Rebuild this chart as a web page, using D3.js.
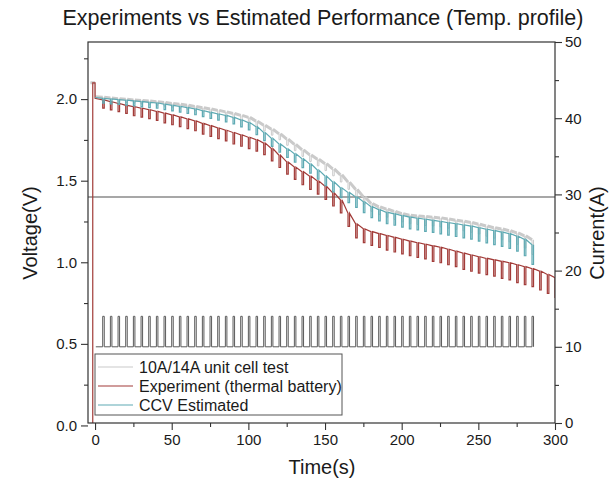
<!DOCTYPE html>
<html>
<head>
<meta charset="utf-8">
<script src="https://cdn.jsdelivr.net/npm/d3@7"></script>
<style>
  body { margin: 0; background: #fff; }
  svg { font-family: "Liberation Sans", Arial, sans-serif; }
  .tick text { font-size: 15px; fill: #1a1a1a; }
  .tick line { stroke: #333; stroke-width: 1.1; }
</style>
</head>
<body>
<div id="chart"></div>
<script>
// times (s) at which each voltage "top" is read; pulses happen at every time after the first
const topTimes = [0,5,10,15,20,25,30,35,40,45,50,55,60,65,70,75,80,85,90,95,100,
  105,110,115,120,125,130,135,140,145,150,155,160,165,170,175,180,185,190,195,200,
  205,210,215,220,225,230,235,240,245,250,255,260,265,270,275,280,285,290,295,300];
const pulseWidth = 1; // s

// Experiment (thermal battery): voltage just before each pulse, and the drop during it
const expTop = [2.005,1.995,1.984,1.973,1.962,1.953,1.944,1.935,1.925,1.914,1.903,
  1.891,1.879,1.866,1.851,1.837,1.823,1.809,1.795,1.781,1.766,
  1.751,1.730,1.697,1.656,1.615,1.583,1.555,1.527,1.498,1.466,
  1.425,1.383,1.300,1.235,1.205,1.188,1.176,1.164,1.153,1.141,
  1.130,1.120,1.111,1.101,1.092,1.080,1.068,1.056,1.045,1.034,
  1.024,1.015,1.006,0.997,0.985,0.973,0.961,0.945,0.925,0.905];
const expDrop = [0.05,0.05,0.05,0.05,0.055,0.055,0.055,0.055,0.06,0.06,
  0.06,0.06,0.06,0.065,0.065,0.065,0.065,0.07,0.07,0.07,
  0.07,0.07,0.075,0.075,0.075,0.075,0.08,0.08,0.08,0.08,
  0.08,0.08,0.08,0.085,0.085,0.085,0.085,0.09,0.09,0.09,
  0.09,0.09,0.09,0.095,0.095,0.095,0.095,0.1,0.1,0.1,
  0.1,0.1,0.105,0.105,0.11,0.11,0.11,0.115,0.115,0.12];
const expStartT = [-1.5, -1.5, 0];
const expStartV = [0.0, 2.1, 2.1];

// CCV Estimated
const ccvTop = [2.010,2.005,2.001,1.997,1.993,1.989,1.985,1.980,1.976,1.969,1.962,
  1.955,1.948,1.940,1.929,1.919,1.909,1.900,1.888,1.872,1.856,
  1.830,1.795,1.760,1.725,1.695,1.665,1.634,1.602,1.565,1.528,
  1.492,1.456,1.428,1.400,1.370,1.340,1.322,1.306,1.297,1.286,
  1.277,1.270,1.264,1.257,1.250,1.243,1.236,1.229,1.222,1.212,
  1.203,1.194,1.185,1.175,1.160,1.140,1.107];
const ccvDrop = [0.03,0.03,0.03,0.03,0.03,0.032,0.032,0.032,0.034,0.034,
  0.035,0.035,0.036,0.036,0.037,0.038,0.04,0.04,0.042,0.045,
  0.048,0.05,0.05,0.05,0.052,0.052,0.054,0.055,0.056,0.058,
  0.06,0.06,0.062,0.064,0.066,0.066,0.068,0.07,0.07,0.07,
  0.072,0.072,0.074,0.074,0.076,0.076,0.078,0.08,0.08,0.082,
  0.084,0.086,0.088,0.09,0.092,0.1,0.12];

// 10A/14A unit cell test
const unitTop = [2.015,2.011,2.007,2.003,1.999,1.995,1.992,1.988,1.984,1.979,1.973,
  1.968,1.962,1.955,1.947,1.939,1.931,1.922,1.912,1.900,1.888,
  1.865,1.840,1.815,1.787,1.755,1.722,1.689,1.658,1.631,1.604,
  1.572,1.536,1.491,1.446,1.401,1.360,1.340,1.326,1.312,1.298,
  1.288,1.284,1.280,1.276,1.272,1.265,1.258,1.251,1.244,1.233,
  1.222,1.212,1.204,1.193,1.180,1.162,1.138];
const unitDrop = [0.02,0.02,0.02,0.02,0.02,0.022,0.022,0.022,0.022,0.022,
  0.024,0.024,0.025,0.025,0.026,0.027,0.028,0.03,0.03,0.032,
  0.034,0.035,0.036,0.036,0.038,0.038,0.04,0.04,0.04,0.042,
  0.042,0.044,0.044,0.046,0.046,0.048,0.048,0.05,0.05,0.05,
  0.052,0.052,0.054,0.054,0.055,0.056,0.057,0.058,0.06,0.06,
  0.062,0.064,0.066,0.068,0.07,0.075,0.09];
const unitStartT = [-3, 0];
const unitStartV = [2.1, 2.1];

// current profile (right axis)
const currentPulseTimes = [5,10,15,20,25,30,35,40,45,50,55,60,65,70,75,80,85,90,95,100,
  105,110,115,120,125,130,135,140,145,150,155,160,165,170,175,180,185,190,195,200,
  205,210,215,220,225,230,235,240,245,250,255,260,265,270,275,280,285];
const currentStart = 0.5, currentEnd = 286;
const currentBase = 10, currentPeak = 14;

const cutoffVoltage = 1.4;

const xTicks = [0,50,100,150,200,250,300];
const xMinor = [25,75,125,175,225,275];
const vTicks = [0,0.5,1.0,1.5,2.0];
const vMinor = [0.25,0.75,1.25,1.75,2.25];
const iTicks = [0,10,20,30,40,50];
const iMinor = [5,15,25,35,45];

const legendItems = [
  { label: "10A/14A unit cell test", color: "#cacaca" },
  { label: "Experiment (thermal battery)", color: "#a23b38" },
  { label: "CCV Estimated", color: "#5eaab3" }
];

// ---- layout
const W = 614, H = 484;
const margin = { top: 42, right: 59, bottom: 61, left: 88 };

const svg = d3.select("#chart").append("svg").attr("width", W).attr("height", H);

const x = d3.scaleLinear().domain([-4.6, 300]).range([margin.left, W - margin.right]);
const yV = d3.scaleLinear().domain([0.015, 2.35]).range([H - margin.bottom, margin.top]);
const yI = d3.scaleLinear().domain([0, 50]).range([H - margin.bottom, margin.top]);

svg.append("defs").append("clipPath").attr("id", "plot")
  .append("rect")
  .attr("x", margin.left).attr("y", margin.top)
  .attr("width", W - margin.left - margin.right)
  .attr("height", H - margin.top - margin.bottom);

// build the saw-tooth voltage traces from the per-pulse readings
function sawPoints(tops, drops, startT, startV) {
  const pts = startT.map((t, i) => [t, startV[i]]);
  pts.push([topTimes[0], tops[0]]);
  for (let j = 1; j < tops.length; j++) {
    const tp = topTimes[j], v = tops[j], b = v - drops[j - 1];
    pts.push([tp, v], [tp, b], [tp + pulseWidth, b], [tp + pulseWidth, v]);
  }
  return pts;
}

// plateaus only (between pulses), used for the thick unit-cell trace
function plateaus(tops) {
  const segs = [];
  for (let j = 0; j < tops.length - 1; j++) {
    const t0 = j === 0 ? topTimes[0] : topTimes[j] + pulseWidth;
    segs.push([[t0, tops[j]], [topTimes[j + 1], tops[j + 1]]]);
  }
  return segs;
}

const lineV = d3.line().x(d => x(d[0])).y(d => yV(d[1]));
const lineI = d3.line().x(d => x(d[0])).y(d => yI(d[1]));

const plot = svg.append("g").attr("clip-path", "url(#plot)");

// cutoff reference line
plot.append("line")
  .attr("x1", margin.left).attr("x2", W - margin.right)
  .attr("y1", yV(cutoffVoltage)).attr("y2", yV(cutoffVoltage))
  .attr("stroke", "#8a8a8a").attr("stroke-width", 1.3);

// current pulses
const currentPts = [[currentStart, currentBase]];
currentPulseTimes.forEach(tp => {
  currentPts.push([tp, currentBase], [tp, currentPeak], [tp + pulseWidth, currentPeak], [tp + pulseWidth, currentBase]);
});
currentPts.push([currentEnd, currentBase]);
plot.append("path").datum(currentPts)
  .attr("fill", "none").attr("stroke", "#5a5a5a").attr("stroke-width", 1)
  .attr("d", lineI);

// unit cell test: thin teeth + thick plateaus
plot.append("path").datum(sawPoints(unitTop, unitDrop, unitStartT, unitStartV))
  .attr("fill", "none").attr("stroke", legendItems[0].color).attr("stroke-width", 1)
  .attr("d", lineV);
plot.append("path")
  .attr("fill", "none").attr("stroke", legendItems[0].color).attr("stroke-width", 3)
  .attr("d", plateaus(unitTop).map(s => lineV(s)).join("") + lineV(unitStartT.map((t, i) => [t, unitStartV[i]])));

plot.append("path").datum(sawPoints(expTop, expDrop, expStartT, expStartV))
  .attr("fill", "none").attr("stroke", legendItems[1].color).attr("stroke-width", 1.2)
  .attr("d", lineV);

plot.append("path").datum(sawPoints(ccvTop, ccvDrop, [], []))
  .attr("fill", "none").attr("stroke", legendItems[2].color).attr("stroke-width", 1.2)
  .attr("d", lineV);

// ---- axes
const bottom = H - margin.bottom, right = W - margin.right;

svg.append("g").attr("transform", `translate(0,${bottom})`)
  .call(d3.axisBottom(x).tickValues(xTicks).tickSize(7).tickPadding(4))
  .call(g => g.select(".domain").remove());
svg.append("g").attr("transform", `translate(0,${bottom})`)
  .call(d3.axisBottom(x).tickValues(xMinor).tickSize(4).tickFormat(""))
  .call(g => g.select(".domain").remove());

svg.append("g").attr("transform", `translate(${margin.left},0)`)
  .call(d3.axisLeft(yV).tickValues(vTicks).tickSize(7).tickPadding(4).tickFormat(d3.format(".1f")))
  .call(g => g.select(".domain").remove());
svg.append("g").attr("transform", `translate(${margin.left},0)`)
  .call(d3.axisLeft(yV).tickValues(vMinor).tickSize(4).tickFormat(""))
  .call(g => g.select(".domain").remove());

svg.append("g").attr("transform", `translate(${right},0)`)
  .call(d3.axisRight(yI).tickValues(iTicks).tickSize(7).tickPadding(3))
  .call(g => g.select(".domain").remove());
svg.append("g").attr("transform", `translate(${right},0)`)
  .call(d3.axisRight(yI).tickValues(iMinor).tickSize(4).tickFormat(""))
  .call(g => g.select(".domain").remove());

// frame
svg.append("rect")
  .attr("x", margin.left).attr("y", margin.top)
  .attr("width", right - margin.left).attr("height", bottom - margin.top)
  .attr("fill", "none").attr("stroke", "#333").attr("stroke-width", 1.2);

// ---- legend
const lg = svg.append("g").attr("transform", "translate(95,354)");
lg.append("rect").attr("width", 247).attr("height", 61)
  .attr("fill", "#fff").attr("stroke", "#555").attr("stroke-width", 1);
legendItems.forEach((d, i) => {
  const yy = 13 + i * 19;
  lg.append("line").attr("x1", 3).attr("x2", 38).attr("y1", yy).attr("y2", yy)
    .attr("stroke", d.color).attr("stroke-width", 1.2);
  lg.append("text").attr("x", 44).attr("y", yy).attr("dy", "0.35em")
    .attr("font-size", 16).attr("fill", "#1a1a1a").text(d.label);
});

// ---- titles
svg.append("text").attr("x", 323).attr("y", 25).attr("text-anchor", "middle")
  .attr("font-size", 21.5).attr("fill", "#1a1a1a")
  .text("Experiments vs Estimated Performance (Temp. profile)");

svg.append("text").attr("x", 322).attr("y", 474).attr("text-anchor", "middle")
  .attr("font-size", 20).attr("fill", "#1a1a1a").text("Time(s)");

svg.append("text").attr("transform", "translate(37,233) rotate(-90)")
  .attr("text-anchor", "middle").attr("font-size", 20).attr("fill", "#1a1a1a").text("Voltage(V)");

svg.append("text").attr("transform", "translate(604,233) rotate(-90)")
  .attr("text-anchor", "middle").attr("font-size", 20).attr("fill", "#1a1a1a").text("Current(A)");
</script>
</body>
</html>
